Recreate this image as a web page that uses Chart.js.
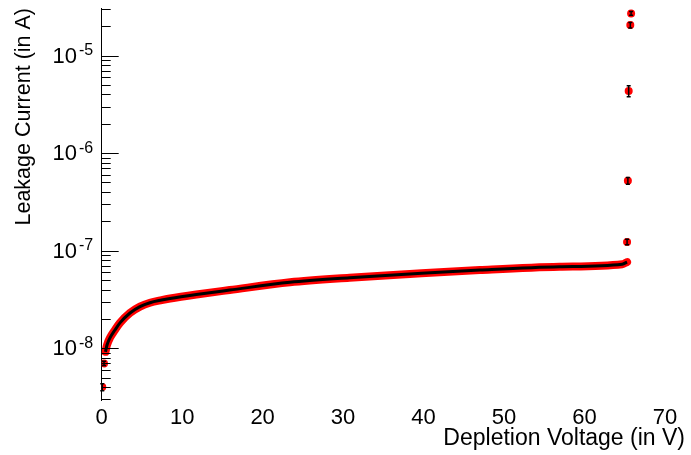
<!DOCTYPE html>
<html>
<head>
<meta charset="utf-8">
<script src="https://cdn.jsdelivr.net/npm/chart.js@4/dist/chart.umd.min.js"></script>
<style>
  body { margin: 0; background: #fff; }
  #wrap { width: 691px; height: 455px; }
</style>
</head>
<body>
<div id="wrap"><canvas id="iv"></canvas></div>
<script>
// IV sweep: continuous part of the curve (V, A)
const sweepVoltage = [0.47, 0.66, 1.03, 1.65, 2.27, 3.52, 4.76, 6.0, 7.45, 8.5, 12, 15.9, 23.4, 30.8, 38.3, 47.0, 56.9, 64.7, 65.3]
const sweepCurrent = [9.2e-9, 1.08e-8, 1.28e-8, 1.54e-8, 1.82e-8, 2.30e-8, 2.67e-8, 2.93e-8, 3.12e-8, 3.24e-8, 3.58e-8, 3.95e-8, 4.74e-8, 5.28e-8, 5.77e-8, 6.34e-8, 6.85e-8, 7.26e-8, 7.65e-8]

// isolated points (start of sweep and breakdown) with errors
const spotVoltage = [0.07, 0.29, 65.3, 65.4, 65.5, 65.7, 65.8]
const spotCurrent = [4.0e-9, 7.0e-9, 1.23e-7, 5.21e-7, 4.33e-6, 2.05e-5, 2.70e-5]
const spotError = [0.32e-9, 0.35e-9, 0.8e-8, 0.42e-7, 0.56e-6, 1.3e-6, 1.2e-6]

const xTicks = [0, 10, 20, 30, 40, 50, 60, 70]
const yDecades = [-8, -7, -6, -5]

const FONT = "'Liberation Sans', Arial, Helvetica, sans-serif"

const toPoints = (xs, ys) => xs.map((x, i) => ({ x, y: ys[i] }))

// ROOT-like y axis: ticks inside the frame and 10^n labels
const logAxis = {
  id: "logAxis",
  afterDraw(chart) {
    const { ctx, chartArea } = chart
    const y = chart.scales.y
    const x0 = chartArea.left
    ctx.save()
    ctx.strokeStyle = "#000"
    ctx.lineWidth = 1
    for (let k = -9; k <= -4; k++) {
      for (let m = 1; m <= 9; m++) {
        const v = m * Math.pow(10, k)
        if (v < y.min || v > y.max) continue
        const py = Math.round(y.getPixelForValue(v)) + 0.5
        const len = m === 1 ? 17 : 9
        ctx.beginPath()
        ctx.moveTo(x0, py)
        ctx.lineTo(x0 + len, py)
        ctx.stroke()
      }
    }
    ctx.fillStyle = "#000"
    ctx.textBaseline = "middle"
    yDecades.forEach(k => {
      const py = y.getPixelForValue(Math.pow(10, k))
      ctx.font = "22px " + FONT
      ctx.textAlign = "right"
      ctx.fillText("10", 77, py + 1)
      ctx.font = "16px " + FONT
      ctx.textAlign = "left"
      ctx.fillText("-" + Math.abs(k), 79, py - 5)
    })
    ctx.restore()
  }
}

// vertical error bars on the isolated points
const errorBars = {
  id: "errorBars",
  afterDatasetsDraw(chart) {
    const { ctx } = chart
    const xs = chart.scales.x
    const ys = chart.scales.y
    ctx.save()
    ctx.strokeStyle = "#000"
    ctx.lineWidth = 1.5
    spotVoltage.forEach((v, i) => {
      const px = xs.getPixelForValue(v)
      const top = ys.getPixelForValue(spotCurrent[i] + spotError[i])
      const bot = ys.getPixelForValue(spotCurrent[i] - spotError[i])
      ctx.beginPath()
      ctx.moveTo(px, top); ctx.lineTo(px, bot)
      ctx.moveTo(px - 2, top); ctx.lineTo(px + 2, top)
      ctx.moveTo(px - 2, bot); ctx.lineTo(px + 2, bot)
      ctx.stroke()
    })
    ctx.restore()
  }
}

new Chart(document.getElementById("iv"), {
  type: "scatter",
  data: {
    datasets: [
      {
        data: toPoints(sweepVoltage, sweepCurrent),
        showLine: true,
        borderColor: "#000",
        borderWidth: 3,
        pointRadius: 0,
        cubicInterpolationMode: "monotone",
        order: 1
      },
      {
        data: toPoints(sweepVoltage, sweepCurrent),
        showLine: true,
        borderColor: "#ff0000",
        borderWidth: 8,
        borderCapStyle: "round",
        borderJoinStyle: "round",
        pointRadius: 0,
        cubicInterpolationMode: "monotone",
        order: 2
      },
      {
        data: toPoints(spotVoltage, spotCurrent),
        backgroundColor: "#ff0000",
        borderWidth: 0,
        pointRadius: 4,
        order: 3
      }
    ]
  },
  options: {
    responsive: true,
    maintainAspectRatio: false,
    animation: false,
    layout: { padding: { top: 8, right: 6, left: 0, bottom: 0 } },
    plugins: {
      legend: { display: false },
      tooltip: { enabled: false }
    },
    scales: {
      x: {
        type: "linear",
        min: 0,
        max: 72.5,
        afterFit: s => { s.height = 55 },
        afterBuildTicks: s => { s.ticks = xTicks.map(value => ({ value })) },
        grid: { display: false, drawTicks: false },
        border: { display: false },
        ticks: {
          padding: 5,
          color: "#000",
          font: { family: FONT, size: 22 },
          maxRotation: 0
        },
        title: {
          display: true,
          text: "Depletion Voltage (in V)",
          align: "end",
          color: "#000",
          font: { family: FONT, size: 23 },
          padding: { top: 0, bottom: 3 }
        }
      },
      y: {
        type: "logarithmic",
        min: 2.95e-9,
        max: 3.07e-5,
        afterFit: s => { s.width = 101.7 },
        grid: { display: false, drawTicks: false },
        border: { display: true, color: "#000", width: 1 },
        ticks: { display: false },
        title: {
          display: true,
          text: "Leakage Current (in A)",
          align: "end",
          color: "#000",
          font: { family: FONT, size: 21.5 },
          padding: { top: 11, bottom: 0 }
        }
      }
    }
  },
  plugins: [logAxis, errorBars]
})
</script>
</body>
</html>
